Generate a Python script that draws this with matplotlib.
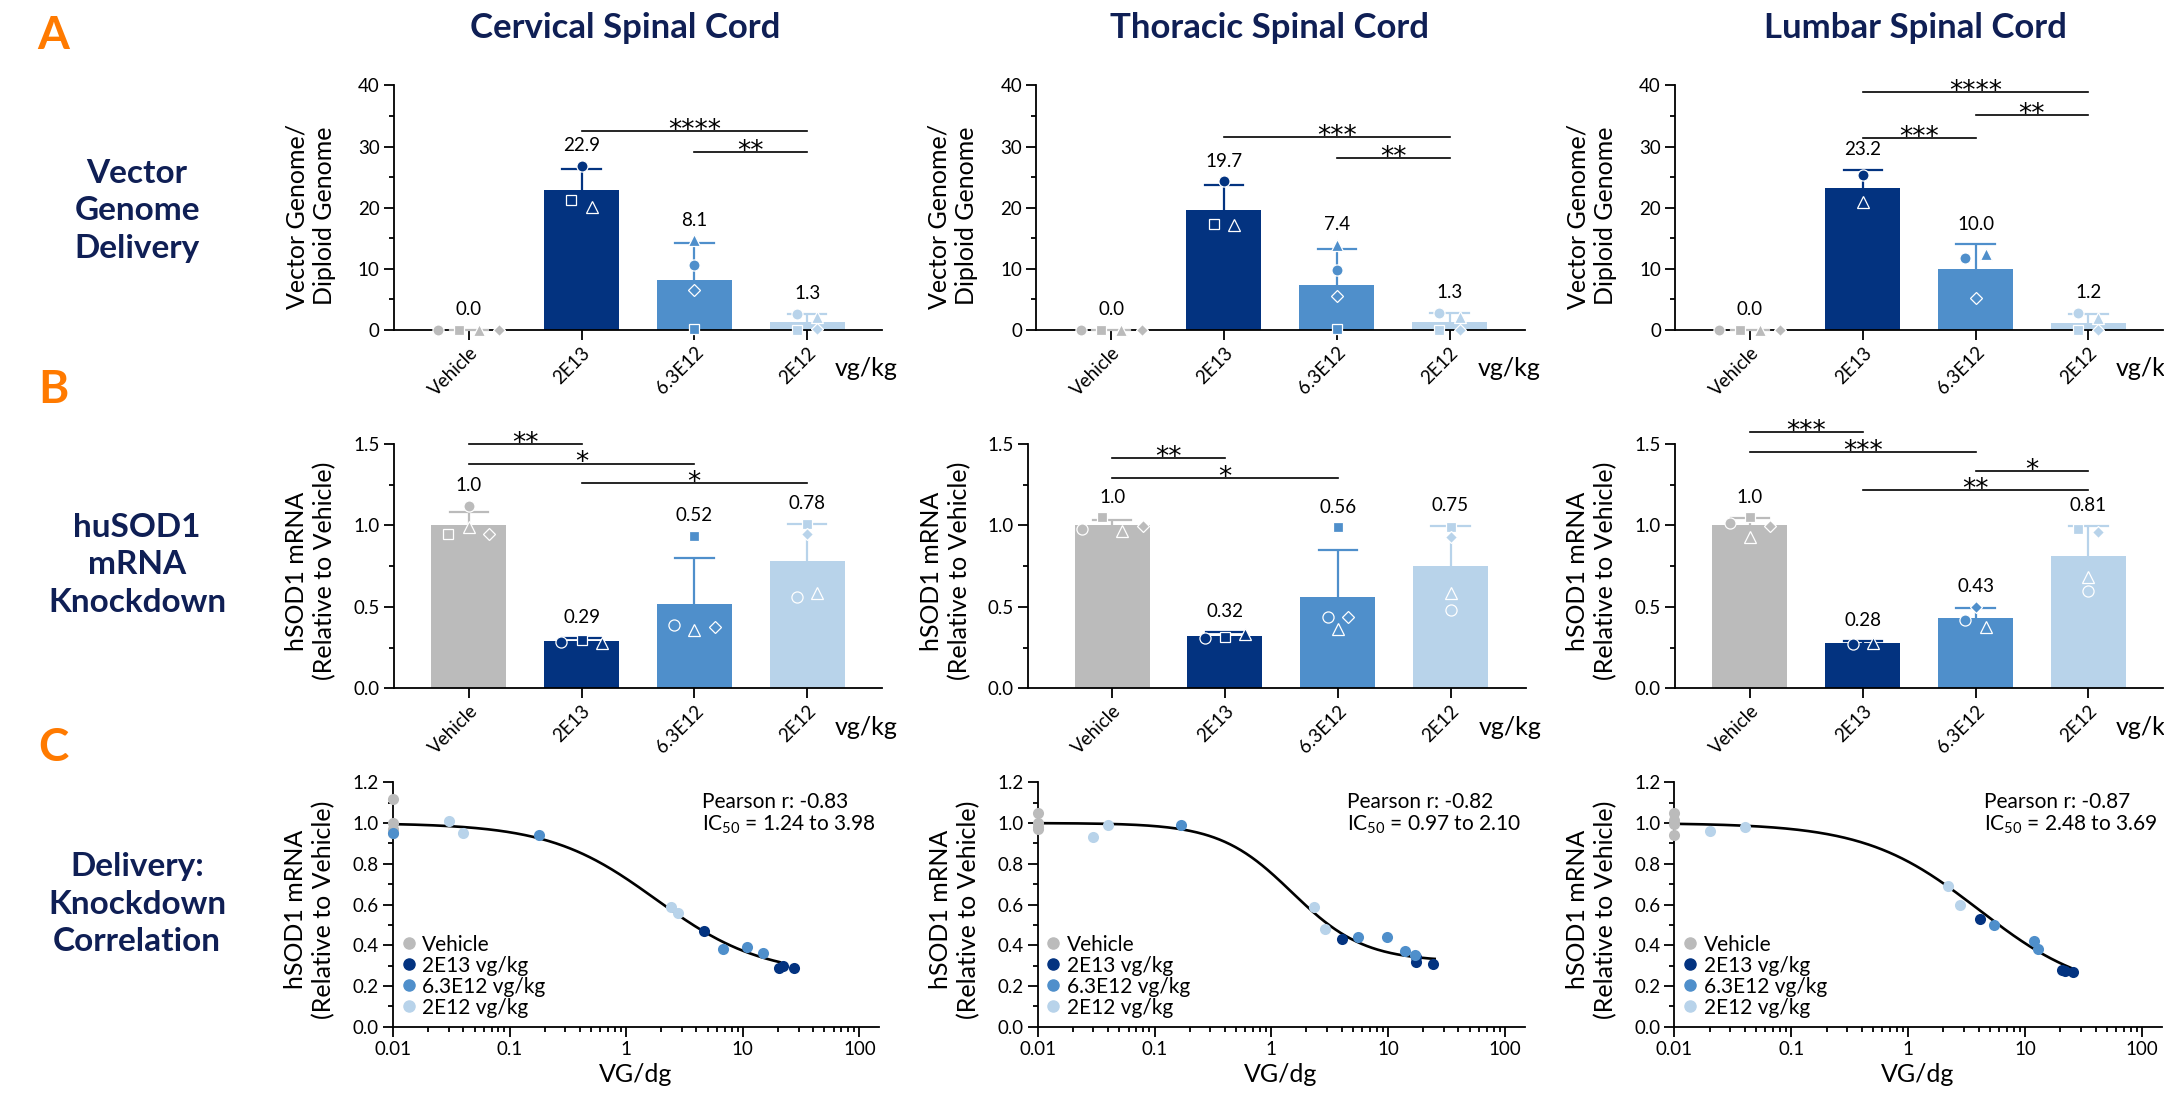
"""
Vector genome delivery, hSOD1 knockdown and their correlation (3 regions x 3 rows)
"""
import numpy as np
import matplotlib
matplotlib.use("Agg")
import matplotlib.pyplot as plt
from matplotlib.lines import Line2D
from matplotlib.ticker import MultipleLocator, LogLocator, NullFormatter

plt.rcParams['font.family'] = ['Lato', 'DejaVu Sans']
plt.rcParams['mathtext.fontset'] = 'custom'
plt.rcParams['mathtext.rm'] = 'Lato'

W, H, DPI = 2164, 1106, 100
NAVY = '#0F1F55'
ORANGE = '#FF7A00'

groups = ['Vehicle', '2E13', '6.3E12', '2E12']
group_colors = ['#BBBBBB', '#033380', '#4F8FCB', '#B8D3EA']
legend_labels = ['Vehicle', '2E13 vg/kg', '6.3E12 vg/kg', '2E12 vg/kg']
regions = ['Cervical Spinal Cord', 'Thoracic Spinal Cord', 'Lumbar Spinal Cord']
row_titles = ['Vector\nGenome\nDelivery', 'huSOD1\nmRNA\nKnockdown', 'Delivery:\nKnockdown\nCorrelation']

# animals per group, order: circle, square, triangle, diamond (nan = none)
nan = np.nan
shapes = ['o', 's', '^', 'D']
shape_size = {'o': 8, 's': 7.5, '^': 8.5, 'D': 6.5}

# --- row A: vector genome / diploid genome
vg_points = [
    [[0, 0, 0, 0], [26.9, 21.3, 20.2, nan], [10.6, 0.1, 14.7, 6.5], [2.6, 0.0, 2.2, 0.1]],
    [[0, 0, 0, 0], [24.3, 17.3, 17.2, nan], [9.8, 0.2, 13.9, 5.5], [2.8, 0.05, 2.1, 0.05]],
    [[0, 0, 0, 0], [25.3, nan, 20.9, nan], [11.8, nan, 12.5, 5.2], [2.8, 0.0, 2.0, 0.0]],
]
vg_means = [[0.0, 22.9, 8.1, 1.3], [0.0, 19.7, 7.4, 1.3], [0.0, 23.2, 10.0, 1.2]]
vg_sd_top = [[0.0, 26.4, 14.2, 2.6], [0.0, 23.7, 13.2, 2.8], [0.0, 26.2, 14.0, 2.6]]
vg_labels = [['0.0', '22.9', '8.1', '1.3'], ['0.0', '19.7', '7.4', '1.3'], ['0.0', '23.2', '10.0', '1.2']]
vg_stats = [
    [(1, 3, 32.6, '****'), (2, 3, 29.1, '**')],
    [(1, 3, 31.6, '***'), (2, 3, 28.2, '**')],
    [(1, 3, 38.9, '****'), (2, 3, 35.2, '**'), (1, 2, 31.4, '***')],
]

# --- row B: hSOD1 mRNA relative to vehicle
kd_points = [
    [[1.12, 0.947, 0.988, 0.947], [0.286, 0.297, 0.28, nan], [0.39, 0.937, 0.358, 0.379], [0.559, 1.01, 0.583, 0.947]],
    [[0.978, 1.05, 0.966, 0.999], [0.307, 0.317, 0.331, nan], [0.44, 0.988, 0.362, 0.44], [0.481, 0.992, 0.587, 0.931]],
    [[1.017, 1.05, 0.931, 0.999], [0.27, nan, 0.28, nan], [0.42, nan, 0.379, 0.501], [0.60, 0.98, 0.686, 0.958]],
]
kd_means = [[1.0, 0.29, 0.52, 0.78], [1.0, 0.32, 0.56, 0.75], [1.0, 0.28, 0.43, 0.81]]
kd_sd_top = [[1.082, 0.31, 0.80, 1.01], [1.035, 0.346, 0.847, 0.997], [1.048, 0.29, 0.495, 0.997]]
kd_labels = [['1.0', '0.29', '0.52', '0.78'], ['1.0', '0.32', '0.56', '0.75'], ['1.0', '0.28', '0.43', '0.81']]
kd_stats = [
    [(0, 1, 1.50, '**'), (0, 2, 1.38, '*'), (1, 3, 1.263, '*')],
    [(0, 1, 1.414, '**'), (0, 2, 1.293, '*')],
    [(0, 1, 1.576, '***'), (0, 2, 1.453, '***'), (2, 3, 1.334, '*'), (1, 3, 1.215, '**')],
]

# --- row C: VG/dg vs mRNA, per group [Vehicle, 2E13, 6.3E12, 2E12]
corr_x = [
    [[0.01, 0.01, 0.01, 0.01], [4.6, 20.3, 22.0, 27.4], [0.01, 0.18, 6.7, 10.8, 14.9], [0.030, 0.040, 2.43, 2.78]],
    [[0.01, 0.01, 0.01, 0.01], [4.04, 17.2, 17.4, 24.0], [0.168, 5.55, 9.85, 13.9, 17.0], [0.030, 0.040, 2.33, 2.88]],
    [[0.01, 0.01, 0.01, 0.01], [4.14, 20.7, 21.7, 25.7], [5.36, 12.0, 12.9], [0.020, 0.040, 2.17, 2.77]],
]
corr_y = [
    [[1.12, 1.0, 0.97, 0.95], [0.47, 0.29, 0.30, 0.29], [0.95, 0.94, 0.38, 0.39, 0.36], [1.01, 0.95, 0.59, 0.56]],
    [[1.05, 1.0, 0.98, 0.97], [0.43, 0.34, 0.32, 0.31], [0.99, 0.44, 0.44, 0.37, 0.35], [0.93, 0.99, 0.59, 0.48]],
    [[1.05, 1.015, 0.995, 0.94], [0.53, 0.28, 0.275, 0.27], [0.50, 0.42, 0.38], [0.96, 0.98, 0.69, 0.60]],
]
# fitted dose-response curves (top, bottom, IC50, Hill slope, last x)
fit_top = [1.0, 1.0, 1.0]
fit_bottom = [0.25, 0.32, 0.15]
fit_ic50 = [1.8, 1.5, 4.0]
fit_hill = [0.95, 1.4, 0.9]
fit_xmax = [20.8, 25.0, 26.7]
pearson_r = ['-0.83', '-0.82', '-0.87']
ic50_range = ['1.24 to 3.98', '0.97 to 2.10', '2.48 to 3.69']

# --- layout in pixels
UNIT = 112.8
bar_left = [[393.6, 1036.0, 1674.8], [393.6, 1027.5, 1674.8]]
bar_xl = [[-0.666, -0.666, -0.666], [-0.666, -0.75, -0.666]]
bar_xr = 3.665
row_top = [85.5, 444.0, 782.3]
row_bot = [330.0, 688.3, 1026.7]
corr_left = [393.0, 1037.7, 1674.4]
corr_right = [879.0, 1524.5, 2161.7]


def add_axes_px(fig, left, top, right, bottom):
    return fig.add_axes([left / W, 1 - bottom / H, (right - left) / W, (bottom - top) / H])


def spread(vals, thr, step=0.18):
    """horizontal offsets for points that would overlap (column scatter)"""
    offs = np.zeros(len(vals))
    order = [i for i in np.argsort(vals, kind='stable') if not np.isnan(vals[i])]
    clusters = []
    for i in order:
        if clusters and vals[i] - vals[clusters[-1][-1]] < thr:
            clusters[-1].append(i)
        else:
            clusters.append([i])
    for c in clusters:
        c = sorted(c)
        for k, i in enumerate(c):
            offs[i] = (k - (len(c) - 1) / 2) * step
    return offs


def style_axes(ax):
    for s in ['top', 'right']:
        ax.spines[s].set_visible(False)
    for s in ['left', 'bottom']:
        ax.spines[s].set_linewidth(1.3)
    ax.tick_params(which='major', length=7, width=1.3, labelsize=13.5, direction='out', pad=3)
    ax.tick_params(which='minor', length=3.5, width=1.3, direction='out')


def add_ylabel(ax, text, width_px, yfrac):
    ax.text(-83 / width_px, yfrac, text, transform=ax.transAxes, rotation=90,
            ha='center', va='center', fontsize=18, linespacing=1.25, multialignment='center')


def bar_panel(ax, points, means, tops, labels, stats, ymax, major, minor, fmt, xl):
    x = np.arange(len(groups))
    ax.bar(x, means, width=0.666, color=group_colors, zorder=2)
    thr = 0.04 * ymax
    for i in x:
        c = group_colors[i]
        ax.plot([i, i], [means[i], tops[i]], color=c, lw=1.6, zorder=3, solid_capstyle='butt')
        ax.plot([i - 0.17, i + 0.17], [tops[i], tops[i]], color=c, lw=1.6, zorder=3, clip_on=False)
        vals = np.array(points[i], float)
        offs = spread(vals, thr)
        for k, m in enumerate(shapes):
            if np.isnan(vals[k]):
                continue
            ax.plot(i + offs[k], vals[k], marker=m, ms=shape_size[m], mfc=c, mec='white',
                    mew=0.9, ls='none', zorder=4, clip_on=False)
        top = max(tops[i], np.nanmax(vals))
        ax.annotate(labels[i], (i, top), xytext=(0, 14.5), textcoords='offset points',
                    ha='center', va='center', fontsize=13.5, annotation_clip=False)
    for a, b, y, s in stats:
        ax.plot([a, b], [y, y], color='black', lw=1.2, clip_on=False)
        ax.annotate(s, ((a + b) / 2, y), xytext=(0, -5), textcoords='offset points',
                    ha='center', va='baseline', fontsize=19, family='DejaVu Sans',
                    annotation_clip=False)
    ax.set_xlim(xl, bar_xr)
    ax.set_ylim(0, ymax)
    ax.yaxis.set_major_locator(MultipleLocator(major))
    ax.yaxis.set_minor_locator(MultipleLocator(minor))
    ax.yaxis.set_major_formatter(plt.FormatStrFormatter(fmt))
    ax.set_xticks(x)
    ax.set_xticklabels(groups, rotation=45, ha='right', rotation_mode='anchor', fontsize=13.5)
    ax.annotate('vg/kg', (3, 0), xytext=(20, -28), textcoords='offset points',
                ha='left', va='center', fontsize=18, annotation_clip=False)
    style_axes(ax)


def corr_panel(ax, r):
    ax.set_xscale('log')
    ax.set_xlim(0.01, 147)
    ax.set_ylim(0, 1.2)
    xs = np.logspace(-2, np.log10(fit_xmax[r]), 300)
    ys = fit_bottom[r] + (fit_top[r] - fit_bottom[r]) / (1 + (xs / fit_ic50[r]) ** fit_hill[r])
    ax.plot(xs, ys, color='black', lw=1.9, zorder=3)
    for g in range(len(groups)):
        ax.scatter(corr_x[r][g], corr_y[r][g], s=64, color=group_colors[g], linewidths=0,
                   zorder=4, clip_on=False)
    ax.set_xticks([0.01, 0.1, 1, 10, 100])
    ax.set_xticklabels(['0.01', '0.1', '1', '10', '100'])
    ax.xaxis.set_minor_locator(LogLocator(base=10, subs=np.arange(2, 10)))
    ax.xaxis.set_minor_formatter(NullFormatter())
    ax.yaxis.set_major_locator(MultipleLocator(0.2))
    ax.yaxis.set_minor_locator(MultipleLocator(0.1))
    ax.yaxis.set_major_formatter(plt.FormatStrFormatter('%.1f'))
    ax.set_xlabel('VG/dg', fontsize=18, labelpad=4)
    ax.text(0.636, 0.92, f'Pearson r: {pearson_r[r]}', transform=ax.transAxes,
            fontsize=15, ha='left', va='center')
    ax.text(0.636, 0.825, 'IC$_{50}$ = ' + ic50_range[r], transform=ax.transAxes,
            fontsize=15, ha='left', va='center')
    handles = [Line2D([], [], marker='o', ls='none', color=c, ms=8) for c in group_colors]
    ax.legend(handles, legend_labels, loc='lower left', bbox_to_anchor=(0.0, 0.02),
              frameon=False, fontsize=15, handlelength=1.1, handletextpad=0.1,
              labelspacing=0.05, borderaxespad=0, borderpad=0.2)
    style_axes(ax)


fig = plt.figure(figsize=(W / DPI, H / DPI), dpi=DPI)

for r in range(3):
    # row A
    left = bar_left[0][r]
    right = left + (bar_xr - bar_xl[0][r]) * UNIT
    ax = add_axes_px(fig, left, row_top[0], right, row_bot[0])
    bar_panel(ax, vg_points[r], vg_means[r], vg_sd_top[r], vg_labels[r], vg_stats[r],
              40, 10, 5, '%d', bar_xl[0][r])
    add_ylabel(ax, 'Vector Genome/\nDiploid Genome', right - left, 0.466)

    # row B
    left = bar_left[1][r]
    right = left + (bar_xr - bar_xl[1][r]) * UNIT
    ax = add_axes_px(fig, left, row_top[1], right, row_bot[1])
    bar_panel(ax, kd_points[r], kd_means[r], kd_sd_top[r], kd_labels[r], kd_stats[r],
              1.5, 0.5, 0.25, '%.1f', bar_xl[1][r])
    add_ylabel(ax, 'hSOD1 mRNA\n(Relative to Vehicle)', right - left + 8 * (r == 1), 0.48)

    # row C
    ax = add_axes_px(fig, corr_left[r], row_top[2], corr_right[r], row_bot[2])
    corr_panel(ax, r)
    add_ylabel(ax, 'hSOD1 mRNA\n(Relative to Vehicle)', corr_right[r] - corr_left[r], 0.48)

# column titles
for x, t in zip([625, 1270, 1915], regions):
    fig.text(x / W, 1 - 28 / H, t, ha='center', va='center', fontsize=25,
             fontweight='bold', color=NAVY)

# row titles and panel letters
for y, t in zip([211, 565, 904], row_titles):
    fig.text(137 / W, 1 - y / H, t, ha='center', va='center', fontsize=24,
             fontweight='bold', color=NAVY, linespacing=1.35)
for y, t in zip([36, 390, 748], ['A', 'B', 'C']):
    fig.text(53 / W, 1 - y / H, t, ha='center', va='center', fontsize=33,
             fontweight='bold', color=ORANGE)

fig.savefig('out.png', dpi=DPI)
